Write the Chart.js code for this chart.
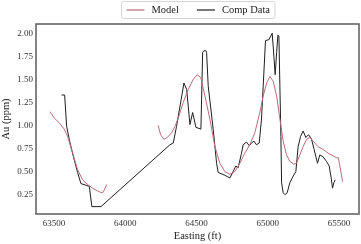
<!DOCTYPE html>
<html>
<head>
<meta charset="utf-8">
<script src="https://cdn.jsdelivr.net/npm/chart.js@4.4.0/dist/chart.umd.min.js"></script>
<style>
  html, body { margin: 0; padding: 0; background: #fff; }
  #wrap { width: 361px; height: 244px; }
</style>
</head>
<body>
<div id="wrap"><canvas id="myChart" width="361" height="244"></canvas></div>
<script>
'use strict';

// model curve (null = gap)
let modelX = [63472, 63502, 63537, 63572, 63596, 63631, 63666, 63701, 63736, 63771, 63818, 63841, 63853, 63870,
  64050,
  64231, 64248, 64271, 64295, 64325, 64349, 64372, 64407, 64442, 64477, 64505, 64530, 64559, 64594, 64629,
  64664, 64699, 64734, 64769, 64804, 64839, 64874, 64909, 64944, 64968, 64992, 65015, 65038, 65062, 65085,
  65108, 65132, 65155, 65183, 65202, 65225, 65248, 65272, 65295, 65318, 65353, 65388, 65423, 65459, 65482,
  65495, 65506, 65525];
let modelY = [1.15, 1.08, 1.03, 0.96, 0.88, 0.70, 0.52, 0.41, 0.36, 0.32, 0.28, 0.27, 0.30, 0.36,
  null,
  1.00, 0.90, 0.85, 0.87, 0.92, 0.99, 1.08, 1.25, 1.39, 1.50, 1.55, 1.52, 1.32, 1.07, 0.77,
  0.59, 0.50, 0.47, 0.50, 0.59, 0.70, 0.79, 0.92, 1.14, 1.32, 1.46, 1.53, 1.48, 1.32, 1.07,
  0.83, 0.68, 0.61, 0.58, 0.59, 0.68, 0.77, 0.85, 0.87, 0.83, 0.77, 0.74, 0.70, 0.67, 0.65,
  0.65, 0.56, 0.39];

// comp data
let compX = [63553, 63575, 63589, 63607, 63635, 63666, 63689, 63748, 63766, 63830,
  64313, 64337, 64360, 64412, 64431, 64454, 64473, 64496, 64531, 64543, 64552, 64566, 64571, 64582,
  64617, 64641, 64652, 64699, 64734, 64757, 64776, 64792, 64816, 64827, 64851, 64870, 64886, 64903,
  64921, 64940, 64956, 64968, 64984, 65008, 65031, 65043, 65052, 65062, 65071, 65078, 65085, 65092,
  65097, 65108, 65120, 65136, 65155, 65178, 65197, 65213, 65230, 65248, 65267, 65286, 65307, 65325,
  65349, 65365, 65388, 65412, 65431, 65447, 65454, 65464, 65473];
let compY = [1.33, 1.33, 0.99, 0.85, 0.67, 0.49, 0.37, 0.34, 0.12, 0.12,
  0.79, 0.81, 0.99, 1.46, 1.39, 1.01, 1.14, 0.98, 0.96, 1.79, 1.81, 1.81, 1.79, 1.43,
  0.96, 0.59, 0.49, 0.46, 0.43, 0.50, 0.56, 0.54, 0.70, 0.79, 0.82, 0.78, 0.81, 0.83,
  0.79, 0.81, 1.07, 1.43, 1.92, 1.93, 2.00, 1.75, 1.55, 1.79, 1.98, 1.97, 1.43, 0.88,
  0.38, 0.27, 0.25, 0.27, 0.38, 0.45, 0.50, 0.77, 0.88, 0.94, 0.87, 0.90, 0.85, 0.74,
  0.59, 0.68, 0.66, 0.61, 0.56, 0.41, 0.32, 0.38, 0.41];

let xTicks = [63500, 64000, 64500, 65000, 65500];
let yTicks = [0.25, 0.50, 0.75, 1.00, 1.25, 1.50, 1.75, 2.00];

const serif = '"Liberation Serif", "DejaVu Serif", serif';

function toPoints(xs, ys) {
  let pts = [];
  for (let i = 0; i < xs.length; i++) {
    pts.push({ x: xs[i], y: ys[i] });
  }
  return pts;
}

// matplotlib style box + framed legend
const boxPlugin = {
  id: 'boxPlugin',
  afterDraw(chart) {
    const ctx = chart.ctx;
    const a = chart.chartArea;
    ctx.save();
    ctx.strokeStyle = '#666';
    ctx.lineWidth = 1.6;
    ctx.strokeRect(a.left, a.top, a.right - a.left, a.bottom - a.top);

    // legend
    ctx.font = '10.5px ' + serif;
    ctx.textBaseline = 'middle';
    const ds = chart.data.datasets;
    let widths = ds.map(d => ctx.measureText(d.label).width);
    let lineW = 18, gap = 7, between = 18, pad = 5;
    let total = pad * 2 + ds.length * (lineW + gap) + widths.reduce((s, w) => s + w, 0) + between * (ds.length - 1);
    let x0 = Math.round((a.left + a.right) / 2 - total / 2) + 0.5;
    let y0 = 1.5, h = 17;
    ctx.strokeStyle = '#d6d6d6';
    ctx.lineWidth = 1;
    ctx.fillStyle = 'rgba(255,255,255,0.9)';
    ctx.beginPath();
    ctx.roundRect(x0, y0, total, h, 2);
    ctx.fill();
    ctx.stroke();
    let cx = x0 + pad;
    let cy = y0 + h / 2;
    ds.forEach((d, i) => {
      ctx.strokeStyle = d.borderColor;
      ctx.lineWidth = 1.2;
      ctx.beginPath();
      ctx.moveTo(cx, cy);
      ctx.lineTo(cx + lineW, cy);
      ctx.stroke();
      cx += lineW + gap;
      ctx.fillStyle = '#222';
      ctx.fillText(d.label, cx, cy + 0.5);
      cx += widths[i] + between;
    });
    ctx.restore();
  }
};

let ctx = document.getElementById('myChart').getContext('2d');
let myChart = new Chart(ctx, {
  type: 'line',
  data: {
    datasets: [{
      label: 'Model',
      data: toPoints(modelX, modelY),
      borderColor: '#b96b78',
      borderWidth: 1,
      pointRadius: 0,
      tension: 0,
      spanGaps: false
    }, {
      label: 'Comp Data',
      data: toPoints(compX, compY),
      borderColor: '#1e1e1e',
      borderWidth: 1,
      pointRadius: 0,
      tension: 0
    }]
  },
  options: {
    responsive: false,
    animation: false,
    layout: { padding: { top: 24, right: 2, left: 0, bottom: 0 } },
    plugins: {
      legend: { display: false },
      tooltip: { enabled: false }
    },
    scales: {
      x: {
        type: 'linear',
        min: 63374,
        max: 65640,
        grid: { display: false, drawTicks: false },
        border: { display: false },
        afterBuildTicks: (scale) => { scale.ticks = xTicks.map(v => ({ value: v })); },
        afterFit: (scale) => { scale.height = 30; },
        ticks: {
          padding: 4,
          color: '#333',
          font: { family: serif, size: 9 },
          maxRotation: 0,
          callback: (v) => String(v)
        },
        title: {
          display: true,
          text: 'Easting (ft)',
          color: '#222',
          font: { family: serif, size: 10.5 },
          padding: { top: 0, bottom: 1 }
        }
      },
      y: {
        min: 0.04,
        max: 2.1,
        grid: { display: false, drawTicks: false },
        border: { display: false },
        afterBuildTicks: (scale) => { scale.ticks = yTicks.map(v => ({ value: v })); },
        afterFit: (scale) => { scale.width = 36; },
        ticks: {
          padding: 3,
          color: '#333',
          font: { family: serif, size: 9 },
          callback: (v) => Number(v).toFixed(2)
        },
        title: {
          display: true,
          text: 'Au (ppm)',
          color: '#222',
          font: { family: serif, size: 10.5 },
          padding: { top: 0, bottom: 0 }
        }
      }
    }
  },
  plugins: [boxPlugin]
});
</script>
</body>
</html>
